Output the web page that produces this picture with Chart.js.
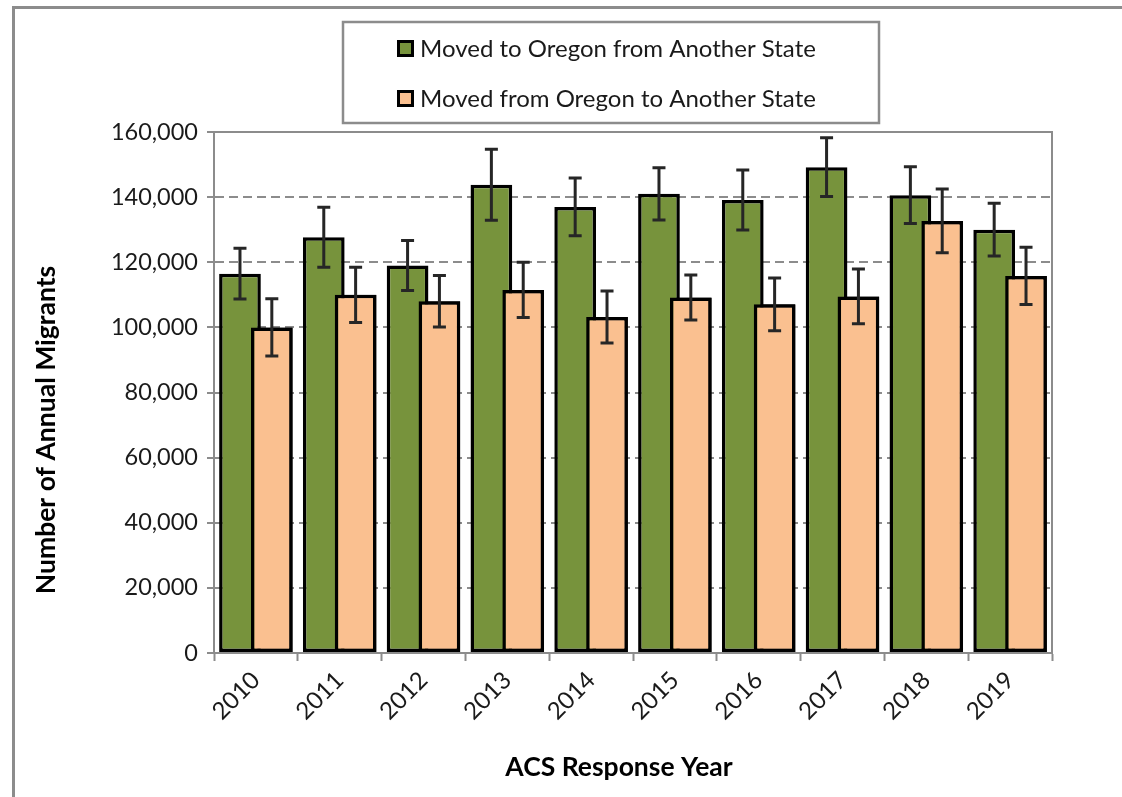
<!DOCTYPE html>
<html>
<head>
<meta charset="utf-8">
<script src="https://cdn.jsdelivr.net/npm/chart.js@4.4.0/dist/chart.umd.min.js"></script>
<style>
html, body { margin: 0; padding: 0; background: #fff; }
canvas { display: block; }
</style>
</head>
<body>
<canvas id="chart" width="1122" height="797"></canvas>
<script>
// data
const years = ['2010', '2011', '2012', '2013', '2014', '2015', '2016', '2017', '2018', '2019'];
const movedIn = [116500, 127700, 119000, 143800, 137000, 141000, 139100, 149200, 140600, 130000];
const movedInErr = [7800, 9200, 7700, 10900, 8900, 8000, 9200, 9000, 8700, 8100];
const movedOut = [100000, 110000, 108000, 111500, 103200, 109200, 107100, 109500, 132700, 115800];
const movedOutErr = [8800, 8500, 7900, 8500, 8000, 6900, 8100, 8400, 9800, 8800];
const yTicks = [0, 20000, 40000, 60000, 80000, 100000, 120000, 140000, 160000];

const errors = [movedInErr, movedOutErr];
const GRAY = '#8c8c8c';
const FONT = 'Lato';

const extras = {
    id: 'extras',
    beforeDraw(chart) {
        const ctx = chart.ctx;
        ctx.save();
        ctx.fillStyle = '#fff';
        ctx.fillRect(0, 0, chart.width, chart.height);
        // outer frame
        ctx.strokeStyle = GRAY;
        ctx.lineWidth = 3;
        ctx.strokeRect(13.5, 7.5, 1200, 900);
        ctx.restore();
    },
    beforeDatasetsDraw(chart) {
        const ctx = chart.ctx;
        const a = chart.chartArea;
        ctx.save();
        ctx.strokeStyle = GRAY;
        ctx.lineWidth = 2;
        ctx.beginPath();
        ctx.moveTo(a.left, a.top);
        ctx.lineTo(a.right, a.top);
        ctx.lineTo(a.right, a.bottom);
        ctx.stroke();
        ctx.restore();
    },
    afterDatasetsDraw(chart) {
        const ctx = chart.ctx;
        // orange bars sit on top of the green ones
        chart.getDatasetMeta(1).controller.draw();

        // error bars
        const yScale = chart.scales.y;
        ctx.save();
        ctx.strokeStyle = '#262626';
        ctx.lineWidth = 3;
        chart.data.datasets.forEach(function(ds, d) {
            const meta = chart.getDatasetMeta(d);
            meta.data.forEach(function(bar, i) {
                const v = ds.data[i];
                const e = errors[d][i];
                const yt = yScale.getPixelForValue(v + e);
                const yb = yScale.getPixelForValue(v - e);
                ctx.beginPath();
                ctx.moveTo(bar.x, yt);
                ctx.lineTo(bar.x, yb);
                ctx.moveTo(bar.x - 6.5, yt);
                ctx.lineTo(bar.x + 6.5, yt);
                ctx.moveTo(bar.x - 6.5, yb);
                ctx.lineTo(bar.x + 6.5, yb);
                ctx.stroke();
            });
        });
        ctx.restore();
    },
    afterDraw(chart) {
        const ctx = chart.ctx;
        ctx.save();
        // legend box
        ctx.strokeStyle = GRAY;
        ctx.lineWidth = 2.5;
        ctx.strokeRect(343, 22, 536, 101);
        ctx.textBaseline = 'middle';
        ctx.textAlign = 'left';
        ctx.font = '24px ' + FONT;
        chart.data.datasets.forEach(function(ds, d) {
            const cy = 48 + d * 50;
            ctx.fillStyle = '#000';
            ctx.fillRect(397, cy - 8, 17, 17);
            ctx.fillStyle = ds.backgroundColor;
            ctx.fillRect(400, cy - 5, 11, 11);
            ctx.fillStyle = '#1a1a1a';
            ctx.fillText(ds.label, 420, cy + 1);
        });

        // axis titles
        ctx.font = 'bold 26.5px ' + FONT;
        ctx.textAlign = 'center';
        ctx.fillStyle = '#000';
        ctx.fillText('ACS Response Year', 619, 767);
        ctx.translate(46, 430);
        ctx.rotate(-Math.PI / 2);
        ctx.fillText('Number of Annual Migrants', 0, 0);
        ctx.restore();
    }
};

new Chart(document.getElementById('chart'), {
    type: 'bar',
    data: {
        labels: years,
        datasets: [{
            label: 'Moved to Oregon from Another State',
            data: movedIn,
            backgroundColor: '#77933C',
            borderColor: '#000',
            borderWidth: 3.5,
            borderSkipped: false
        }, {
            label: 'Moved from Oregon to Another State',
            data: movedOut,
            backgroundColor: '#FAC090',
            borderColor: '#000',
            borderWidth: 3.5,
            borderSkipped: false
        }]
    },
    options: {
        responsive: false,
        animation: false,
        categoryPercentage: 0.76,
        barPercentage: 1.31,
        layout: { padding: { left: 20, right: 70, top: 132, bottom: 20 } },
        plugins: {
            legend: { display: false },
            tooltip: { enabled: false }
        },
        scales: {
            x: {
                afterFit: function(scale) { scale.height = 124; },
                grid: {
                    drawOnChartArea: false,
                    tickLength: 8,
                    tickColor: GRAY,
                    tickWidth: 2
                },
                border: { color: GRAY, width: 2 },
                ticks: {
                    minRotation: 45,
                    maxRotation: 45,
                    padding: 5,
                    color: '#1a1a1a',
                    font: { family: FONT, size: 24 }
                }
            },
            y: {
                min: 0,
                max: 160000,
                afterFit: function(scale) { scale.width = 194; },
                afterBuildTicks: function(scale) {
                    scale.ticks = yTicks.map(function(v) { return { value: v }; });
                },
                grid: {
                    color: GRAY,
                    lineWidth: 2,
                    tickLength: 7,
                    tickColor: GRAY,
                    tickWidth: 2
                },
                border: { color: GRAY, width: 2, dash: [9, 5] },
                ticks: {
                    padding: 9,
                    color: '#1a1a1a',
                    font: { family: FONT, size: 23.5 },
                    callback: function(v) { return v.toLocaleString('en-US'); }
                }
            }
        }
    },
    plugins: [extras]
});
</script>
</body>
</html>
